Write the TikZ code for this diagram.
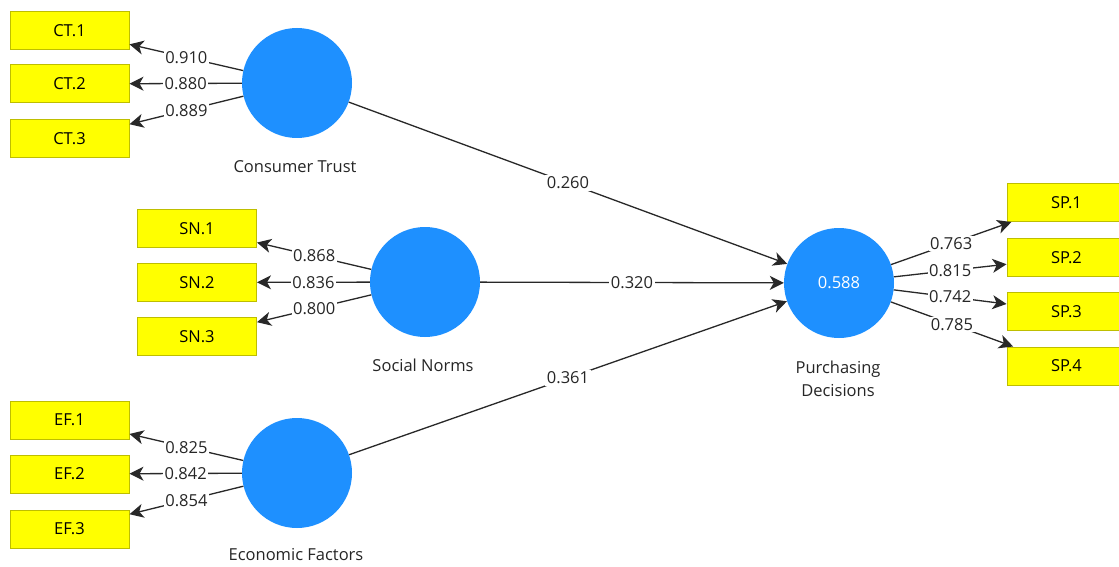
\documentclass[tikz,border=0pt]{standalone}
\usepackage{fontspec}
\setmainfont{Open Sans}
\usetikzlibrary{arrows.meta}
\definecolor{lvblue}{RGB}{30,144,255}
\definecolor{boxyellow}{RGB}{255,255,0}
\definecolor{boxborder}{RGB}{190,190,0}
\definecolor{linegray}{RGB}{40,40,40}
\tikzset{
  every node/.style={font=\fontsize{16.5}{23}\selectfont},
  indbox/.style={draw=boxborder, fill=boxyellow, line width=1pt, minimum width=119pt, minimum height=38pt, inner sep=0pt, text=black},
  lv/.style={circle, fill=lvblue, minimum size=110pt, inner sep=0pt, text=white},
  lvname/.style={text=black!85, align=center},
  conn/.style={draw=linegray, line width=1.3pt, -{Stealth[length=14pt,width=14pt,inset=4pt]}},
  coef/.style={midway, fill=white, inner sep=1.5pt, text=black!85},
}
\begin{document}
\begin{tikzpicture}[x=1pt,y=-1pt]
\useasboundingbox (0,0) rectangle (1119,567);
\clip (0,0) rectangle (1119,567);
\fill[white] (0,0) rectangle (1119,567);
% latent variables
\node[lv] (CT) at (297,83) {};
\node[lv] (SN) at (425,282) {};
\node[lv] (EF) at (297,473) {};
\node[lv] (PD) at (839,283) {0.588};
% names
\node[lvname] (CTn) at (295,167) {Consumer Trust};
\node[lvname] (SNn) at (423,365) {Social Norms};
\node[lvname] (EFn) at (296,555) {Economic Factors};
\node[lvname] (PDn) at (838,379) {Purchasing\\Decisions};
% indicators
\node[indbox] (CT1) at (69.5,30.5) {CT.1};
\node[indbox] (CT2) at (69.5,84) {CT.2};
\node[indbox] (CT3) at (69.5,139) {CT.3};
\node[indbox] (SN1) at (197,228.5) {SN.1};
\node[indbox] (SN2) at (197,282.5) {SN.2};
\node[indbox] (SN3) at (197,336.5) {SN.3};
\node[indbox] (EF1) at (69.5,420) {EF.1};
\node[indbox] (EF2) at (69.5,474) {EF.2};
\node[indbox] (EF3) at (69.5,529) {EF.3};
\node[indbox] (SP1) at (1066.5,202.5) {SP.1};
\node[indbox] (SP2) at (1066.5,257.5) {SP.2};
\node[indbox] (SP3) at (1066.5,311.5) {SP.3};
\node[indbox] (SP4) at (1066.5,366) {SP.4};
% outer loadings
\draw[conn] (CT) -- (CT1) node[coef] {0.910};
\draw[conn] (CT) -- (CT2) node[coef] {0.880};
\draw[conn] (CT) -- (CT3) node[coef] {0.889};
\draw[conn] (SN) -- (SN1) node[coef] {0.868};
\draw[conn] (SN) -- (SN2) node[coef] {0.836};
\draw[conn] (SN) -- (SN3) node[coef] {0.800};
\draw[conn] (EF) -- (EF1) node[coef] {0.825};
\draw[conn] (EF) -- (EF2) node[coef] {0.842};
\draw[conn] (EF) -- (EF3) node[coef] {0.854};
\draw[conn] (PD) -- (SP1) node[coef] {0.763};
\draw[conn] (PD) -- (SP2) node[coef] {0.815};
\draw[conn] (PD) -- (SP3) node[coef] {0.742};
\draw[conn] (PD) -- (SP4) node[coef] {0.785};
% path coefficients
\draw[conn] (CT) -- (PD) node[coef] {0.260};
\draw[conn] (SN) -- (PD) node[coef] {0.320};
\draw[conn] (EF) -- (PD) node[coef] {0.361};
\end{tikzpicture}
\end{document}
